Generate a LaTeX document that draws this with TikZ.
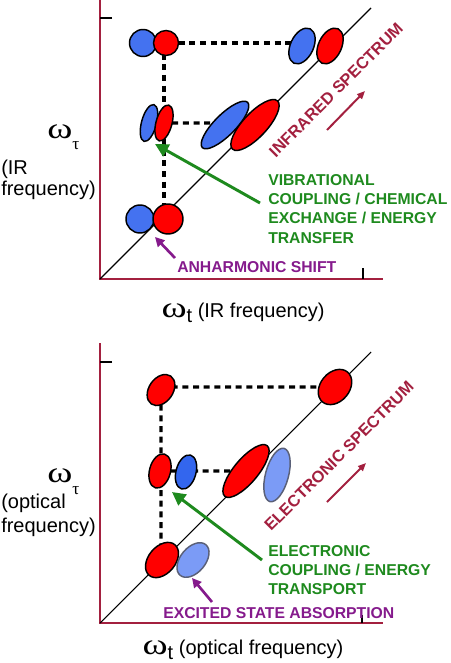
\documentclass[tikz,border=0pt]{standalone}
\usepackage{fontspec}
\setmainfont{Liberation Sans}
\newfontfamily\grk{Liberation Serif}
\usetikzlibrary{arrows.meta,shapes.geometric}
\definecolor{axisred}{HTML}{A3203F}
\definecolor{pkred}{HTML}{FF0000}
\definecolor{pkblue}{HTML}{4472F0}
\definecolor{pkdblue}{HTML}{3366EE}
\definecolor{pklight}{HTML}{7B9BF6}
\definecolor{pkgray}{HTML}{5A6078}
\definecolor{txtgreen}{HTML}{1E8A1E}
\definecolor{txtpurple}{HTML}{851A8C}
\pgfdeclarelayer{bg}
\pgfsetlayers{bg,main}
\tikzstyle{peak} = [draw=black, line width=1.1pt, ellipse, inner sep=0pt, outer sep=0pt]
\tikzstyle{lightpeak} = [peak, fill=pklight, draw=pkgray]
\tikzset{pksize/.style 2 args={minimum width=#1*0.75pt, minimum height=#2*0.75pt}}
\tikzstyle{axisline} = [line width=2pt, draw=axisred]
\tikzstyle{tickline} = [line width=1.5pt, draw=black]
\tikzstyle{diag} = [line width=0.8pt, draw=black]
\tikzstyle{dashline} = [line width=2.4pt, dash pattern=on 4.5pt off 3.5pt]
\tikzstyle{greenArrow} = [line width=2.2pt, txtgreen, -{Triangle[length=10pt,width=10pt]}]
\tikzstyle{purpleArrow} = [line width=2pt, txtpurple, -{Triangle[length=7pt,width=7pt]}]
\tikzstyle{specArrow} = [line width=1.5pt, axisred, -{Triangle[length=6pt,width=5pt]}]
\tikzstyle{caplbl} = [inner sep=0pt, font=\fontsize{11.8}{14.5}\selectfont\bfseries]
\tikzstyle{speclbl} = [inner sep=0pt, axisred, rotate=45, font=\fontsize{12.3}{14}\selectfont\bfseries]
\tikzstyle{axlbl} = [inner sep=0pt, font=\fontsize{15}{18}\selectfont]
\newcommand\omg{{\grk\fontsize{22}{22}\selectfont\scalebox{1.3}[1]{ω}}}
\newcommand\omtau{\omg\raisebox{-9pt}{\grk\fontsize{13}{13}\selectfont τ}}
\newcommand\omt{\omg\raisebox{-4pt}{\fontsize{15}{15}\selectfont t}}

\begin{document}
\begin{tikzpicture}[x=0.75pt,y=-0.75pt]
		\useasboundingbox (0,0) rectangle (450,663);
		% ---------- upper panel (IR) ----------
		% corners of the axes
		\coordinate (t-top) at (100,0);
		\coordinate (t-o) at (100,279);
		\coordinate (t-xend) at (383,279);
		\coordinate (t-d) at (371,8);							% end of diagonal
		\coordinate (t-ytick) at (112,18);
		\coordinate (t-xtick) at (363,268);
		
		% peaks
		\node[peak,fill=pkblue,pksize={27}{27}] (t-b1) at (143,43) {};		% top left pair
		\node[peak,fill=pkred,pksize={25}{25}] (t-r1) at (166,43) {};
		\node[peak,fill=pkblue,pksize={23}{38},rotate=-25] (t-b2) at (302,46) {};	% top right pair
		\node[peak,fill=pkred,pksize={23}{38},rotate=-25] (t-r2) at (330,46) {};
		\node[peak,fill=pkblue,pksize={15}{38},rotate=-15] (t-mb) at (149,123) {};	% cross peaks
		\node[peak,fill=pkred,pksize={16}{37},rotate=-15] (t-mr) at (164,123) {};
		\node[peak,fill=pkblue,pksize={64}{21},rotate=45] (t-eb) at (225,125) {};	% elongated pair
		\node[peak,fill=pkred,pksize={66}{24},rotate=47] (t-er) at (255,125) {};
		\node[peak,fill=pkblue,pksize={28}{28}] (t-b3) at (140,219) {};		% bottom pair
		\node[peak,fill=pkred,pksize={30}{30}] (t-r3) at (168,219) {};
		
		% labels
		\node[axlbl,anchor=base west] (t-wtau) at (47,138) {\omtau};
		\node[axlbl,anchor=base west] (t-yl1) at (1,174) {(IR};
		\node[axlbl,anchor=base west] (t-yl2) at (1,195) {frequency)};
		\node[axlbl,anchor=base] (t-xl) at (243,317) {\omt\ (IR frequency)};
		\node[speclbl] (t-spec) at (336,90) {INFRARED SPECTRUM};
		\node[caplbl,txtgreen,anchor=north west,align=left] (t-coup) at (268,174)
			{VIBRATIONAL\\COUPLING / CHEMICAL\\EXCHANGE / ENERGY\\TRANSFER};
		\node[caplbl,txtpurple,anchor=base west] (t-anh) at (177,272) {ANHARMONIC SHIFT};
		
		% arrow ends
		\coordinate (t-gtail) at (260,203);
		\coordinate (t-gtip) at (155,144);
		\coordinate (t-ptail) at (175,258);
		\coordinate (t-ptip) at (155,237);
		\coordinate (t-stail) at (327,130);
		\coordinate (t-stip) at (365,91);
		
		\begin{pgfonlayer}{bg}
		\draw[axisline] (t-top) -- (t-o) -- (t-xend);
		\draw[tickline] (t-ytick) -- (t-ytick -| t-o);
		\draw[tickline] (t-xtick) -- (t-xtick |- t-o);
		\draw[diag] (t-o) -- (t-d);
		\draw[dashline] (t-r1) -- (t-r1 -| t-b2);
		\draw[dashline] (t-mr |- t-r1) -- (t-mr |- t-r3);
		\draw[dashline] (t-mr) -- (t-mr -| t-eb);
		\end{pgfonlayer}
		
		\draw[greenArrow] (t-gtail) -- (t-gtip);
		\draw[purpleArrow] (t-ptail) -- (t-ptip);
		\draw[specArrow] (t-stail) -- (t-stip);
		
		% ---------- lower panel (optical) ----------
		\coordinate (b-top) at (100,343);
		\coordinate (b-o) at (100,623);
		\coordinate (b-xend) at (383,623);
		\coordinate (b-d) at (371,352);
		\coordinate (b-ytick) at (112,362);
		\coordinate (b-xtick) at (362,615);
		
		% peaks
		\node[peak,fill=pkred,pksize={24}{34},rotate=-35] (b-r1) at (161,390) {};	% top left
		\node[peak,fill=pkred,pksize={29}{39},rotate=-40] (b-r2) at (335,387) {};	% top right
		\node[peak,fill=pkred,pksize={21}{35},rotate=-15] (b-mr) at (160,471) {};	% cross peak
		\node[peak,fill=pkdblue,pksize={20}{35},rotate=-15] (b-mb) at (186,472) {};
		\node[peak,fill=pkred,pksize={66}{24},rotate=50] (b-er) at (246,471) {};	% diagonal peak
		\node[lightpeak,pksize={23}{55},rotate=-15] (b-el) at (277,475) {};		% excited state
		\node[peak,fill=pkred,pksize={27}{40},rotate=-40] (b-r4) at (162,560) {};	% bottom
		\node[lightpeak,pksize={25}{40},rotate=-40] (b-l4) at (193,560) {};
		
		% labels
		\node[axlbl,anchor=base west] (b-wtau) at (47,482) {\omtau};
		\node[axlbl,anchor=base west] (b-yl1) at (1,508) {(optical};
		\node[axlbl,anchor=base west] (b-yl2) at (1,532) {frequency)};
		\node[axlbl,anchor=base] (b-xl) at (243,654) {\omt\ (optical frequency)};
		\node[speclbl] (b-spec) at (339,456) {ELECTRONIC SPECTRUM};
		\node[caplbl,txtgreen,anchor=north west,align=left] (b-coup) at (268,545)
			{ELECTRONIC\\COUPLING / ENERGY\\TRANSPORT};
		\node[caplbl,txtpurple,anchor=base west] (b-esa) at (163,618) {EXCITED STATE ABSORPTION};
		
		% arrow ends
		\coordinate (b-gtail) at (262,560);
		\coordinate (b-gtip) at (172,492);
		\coordinate (b-ptail) at (212,602);
		\coordinate (b-ptip) at (192,578);
		\coordinate (b-stail) at (327,502);
		\coordinate (b-stip) at (366,463);
		
		\begin{pgfonlayer}{bg}
		\draw[axisline] (b-top) -- (b-o) -- (b-xend);
		\draw[tickline] (b-ytick) -- (b-ytick -| b-o);
		\draw[tickline] (b-xtick) -- (b-xtick |- b-o);
		\draw[diag] (b-o) -- (b-d);
		\draw[dashline] (b-r2 -| b-r1) -- (b-r2);
		\draw[dashline] (b-r1) -- (b-r1 |- b-r4);
		\draw[dashline] (b-mr) -- (b-er);
		\end{pgfonlayer}
		
		\draw[greenArrow] (b-gtail) -- (b-gtip);
		\draw[purpleArrow] (b-ptail) -- (b-ptip);
		\draw[specArrow] (b-stail) -- (b-stip);
\end{tikzpicture}
\end{document}
